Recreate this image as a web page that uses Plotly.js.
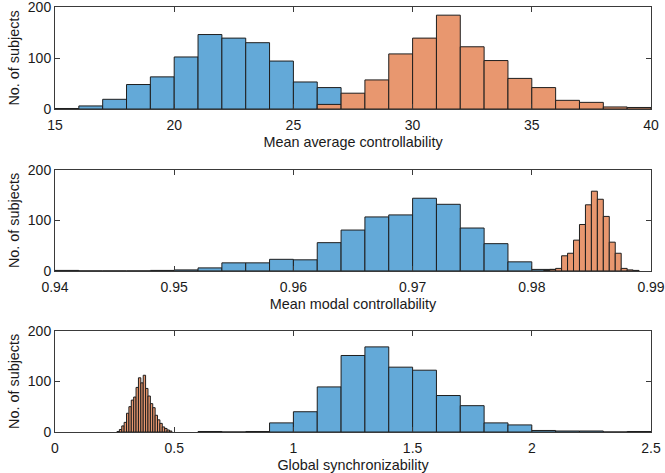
<!DOCTYPE html>
<html>
<head>
<meta charset="utf-8">
<script src="https://cdn.plot.ly/plotly-3.0.1.min.js"></script>
<style>html,body{margin:0;padding:0;background:#fff;}#chart{width:665px;height:473px;}</style>
</head>
<body>
<div id="chart"></div>
<script>
// Panel 1: Mean average controllability (bin width 1)
const avgBlueStart = 15, avgBlueWidth = 1;
const avgBlueCounts = [1, 6, 19, 48, 63, 102, 146, 139, 130, 94, 53, 42];
const avgOrangeStart = 26, avgOrangeWidth = 1;
const avgOrangeCounts = [9, 31, 57, 108, 139, 184, 122, 95, 60, 42, 17, 13, 4, 3];

// Panel 2: Mean modal controllability
const modalBlueStart = 0.94, modalBlueWidth = 0.002;
const modalBlueCounts = [1, 0, 0, 0, 1, 2, 6, 16, 16, 23, 22, 56, 81, 107, 111, 144, 132, 85, 54, 18, 3];
const modalOrangeStart = 0.981, modalOrangeWidth = 0.0005;
const modalOrangeCounts = [1, 3, 5, 30, 35, 61, 92, 131, 158, 142, 108, 57, 35, 5, 2, 1];

// Panel 3: Global synchronizability
const syncBlueStart = 0.6, syncBlueWidth = 0.1;
const syncBlueCounts = [1, 0, 1, 18, 40, 89, 151, 168, 128, 122, 72, 52, 18, 14, 3, 2, 2, 0, 1];
const syncOrangeStart = 0.26, syncOrangeWidth = 0.01;
const syncOrangeCounts = [1, 5, 12, 19, 37, 50, 63, 69, 88, 107, 97, 112, 86, 71, 56, 48, 33, 24, 17, 10, 7, 4, 2];

const xTitles = ['Mean average controllability', 'Mean modal controllability', 'Global synchronizability'];
const yTitle = 'No. of subjects';

const BLUE = '#63a9d8', ORANGE = '#e8976f', EDGE = '#1e1e1e';

function edges(start, width, n) {
  const e = [];
  for (let i = 0; i < n; i++) e.push(start + i * width);
  return e;
}
function hist(start, width, counts, color, xa, ya) {
  return {
    type: 'bar', x: edges(start, width, counts.length), y: counts,
    width: width, offset: 0,
    marker: {color: color, line: {color: EDGE, width: 1}},
    xaxis: xa, yaxis: ya, hoverinfo: 'x+y', showlegend: false
  };
}

const data = [
  hist(avgBlueStart, avgBlueWidth, avgBlueCounts, BLUE, 'x', 'y'),
  hist(avgOrangeStart, avgOrangeWidth, avgOrangeCounts, ORANGE, 'x', 'y'),
  hist(modalBlueStart, modalBlueWidth, modalBlueCounts, BLUE, 'x2', 'y2'),
  hist(modalOrangeStart, modalOrangeWidth, modalOrangeCounts, ORANGE, 'x2', 'y2'),
  hist(syncBlueStart, syncBlueWidth, syncBlueCounts, BLUE, 'x3', 'y3'),
  hist(syncOrangeStart, syncOrangeWidth, syncOrangeCounts, ORANGE, 'x3', 'y3')
];

const FONT = {family: 'Liberation Sans, Arial, sans-serif', size: 14.4, color: '#1a1a1a'};
const TICKFONT = {family: 'Liberation Sans, Arial, sans-serif', size: 14, color: '#1a1a1a'};
function xax(range, dtick, title, anchor) {
  return {
    range: range, dtick: dtick, tick0: range[0], anchor: anchor,
    showline: true, mirror: 'ticks', linecolor: '#3a3a3a', linewidth: 1,
    ticks: 'inside', ticklen: 5, tickcolor: '#3a3a3a', tickwidth: 1,
    showgrid: false, zeroline: false, fixedrange: true,
    ticklabeloverflow: 'allow', ticklabelstandoff: 3,
    tickfont: TICKFONT, title: {text: title, font: FONT, standoff: 5}
  };
}
function yax(domain, anchor) {
  return {
    domain: domain, range: [0, 200], dtick: 100, anchor: anchor,
    showline: true, mirror: 'ticks', linecolor: '#3a3a3a', linewidth: 1,
    ticks: 'inside', ticklen: 5, tickcolor: '#3a3a3a', tickwidth: 1,
    showgrid: false, zeroline: false, fixedrange: true,
    ticklabeloverflow: 'allow',
    tickfont: TICKFONT, title: {text: yTitle, font: FONT, standoff: 4}
  };
}

const layout = {
  width: 665, height: 473,
  margin: {l: 55, r: 14, t: 7, b: 41},
  paper_bgcolor: '#fff', plot_bgcolor: '#fff',
  barmode: 'overlay', bargap: 0,
  font: FONT,
  xaxis: xax([15, 40], 5, xTitles[0], 'y'),
  yaxis: yax([0.76, 1.0], 'x'),
  xaxis2: xax([0.94, 0.99], 0.01, xTitles[1], 'y2'),
  yaxis2: yax([0.379, 0.6165], 'x2'),
  xaxis3: xax([0, 2.5], 0.5, xTitles[2], 'y3'),
  yaxis3: yax([0, 0.2384], 'x3')
};

Plotly.newPlot('chart', data, layout, {staticPlot: true, displayModeBar: false});
</script>
</body>
</html>
